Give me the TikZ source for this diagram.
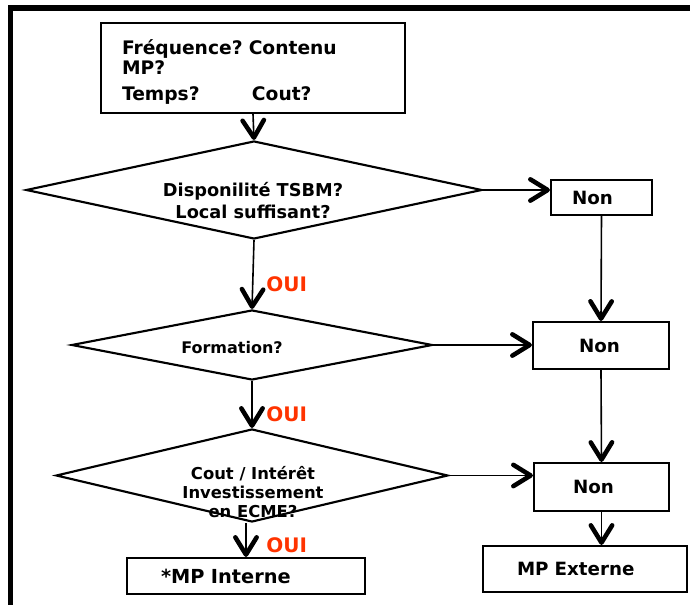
\documentclass[tikz,border=0pt]{standalone}
\usepackage{fontspec}
\setmainfont{DejaVu Sans}
\usetikzlibrary{arrows.meta,shapes.geometric,calc}
\definecolor{rouge}{RGB}{255,51,0}
\frenchspacing

\begin{document}
\begin{tikzpicture}[x=0.75pt,y=0.75pt,yscale=-1,xscale=1,
	boite/.style={draw, line width=1.6pt, inner ysep=0pt, align=left, font=\bfseries\fontsize{13.7pt}{15pt}\selectfont},
	losange/.style={draw, diamond, line width=1.6pt, inner sep=0pt},
	texte/.style={inner sep=0pt, align=center, font=\bfseries\fontsize{13.3pt}{16.5pt}\selectfont},
	oui/.style={anchor=west, inner sep=0pt, text=rouge, font=\bfseries\fontsize{15pt}{16pt}\selectfont},
	fleche/.style={line width=1.2pt, -{Straight Barb[length=13pt,width=16pt,line width=3.4pt,round]}}]
	\useasboundingbox (0,0) rectangle (690,605);
	\draw [line width=4.2pt] (10.5,605) -- (10.5,8) -- (690,8);

	\node [boite, font=\bfseries\fontsize{14pt}{15pt}\selectfont, inner xsep=15.75pt, text width=196.5pt, minimum height=67.5pt] (questions) at (253,68) {\rule{0pt}{17pt}Fréquence? Contenu\\MP?\\[4.5pt]\makebox[97.5pt][l]{Temps?}Cout?};
	\node [losange, minimum width=342pt, minimum height=73.5pt] (dispo) at (254,190) {};
	\node [losange, minimum width=270.75pt, minimum height=52.5pt] (formation) at (252,345) {};
	\node [losange, minimum width=294pt, minimum height=69.75pt] (cout) at (252,475.5) {};

	\node [texte] (dispot) at (253,201) {Disponilité TSBM?\\Local suffisant?};
	\node [texte, font=\bfseries\fontsize{12pt}{14pt}\selectfont] (formationt) at (232,348) {Formation?};
	\node [texte, font=\bfseries\fontsize{12.3pt}{14.25pt}\selectfont] (coutt) at (253,492) {Cout / Intérêt\\Investissement\\en ECME?};

	\node [boite, inner xsep=15.75pt, text width=44.25pt, minimum height=26.25pt] (non1) at (601.5,197.5) {Non};
	\node [boite, inner xsep=34.5pt, text width=33pt, minimum height=35.25pt] (non2) at (601,345.5) {Non};
	\node [boite, inner xsep=29.25pt, text width=42.75pt, minimum height=36pt] (non3) at (601.5,487) {Non};
	\node [boite, inner xsep=25.5pt, text width=102pt, minimum height=34.5pt] (externe) at (585,569) {MP Externe};
	\node [boite, font=\bfseries\fontsize{14.5pt}{15pt}\selectfont, inner xsep=25.5pt, text width=127.5pt, minimum height=27pt] (interne) at (246,576) {*MP Interne};

	\node [oui] (oui1) at (266,284.5) {OUI};
	\node [oui] (oui2) at (266,414) {OUI};
	\node [oui] (oui3) at (266,545) {OUI};

	\draw [fleche] (questions.south) -- (dispo.north);
	\draw [fleche] (dispo.south) -- (formation.north);
	\draw [fleche] (formation.south) -- (cout.north);
	\draw [fleche] (interne.north |- cout.south) -- (interne.north);
	\draw [fleche] (dispo.east) -- (dispo.east -| non1.west);
	\draw [fleche] (formation.east) -- (formation.east -| non2.west);
	\draw [fleche] (cout.east) -- (cout.east -| non3.west);
	\draw [fleche] (non1.south) -- (non2.north);
	\draw [fleche] (non2.south) -- (non3.north);
	\draw [fleche] (non3.south) -- (non3.south |- externe.north);
\end{tikzpicture}
\end{document}
